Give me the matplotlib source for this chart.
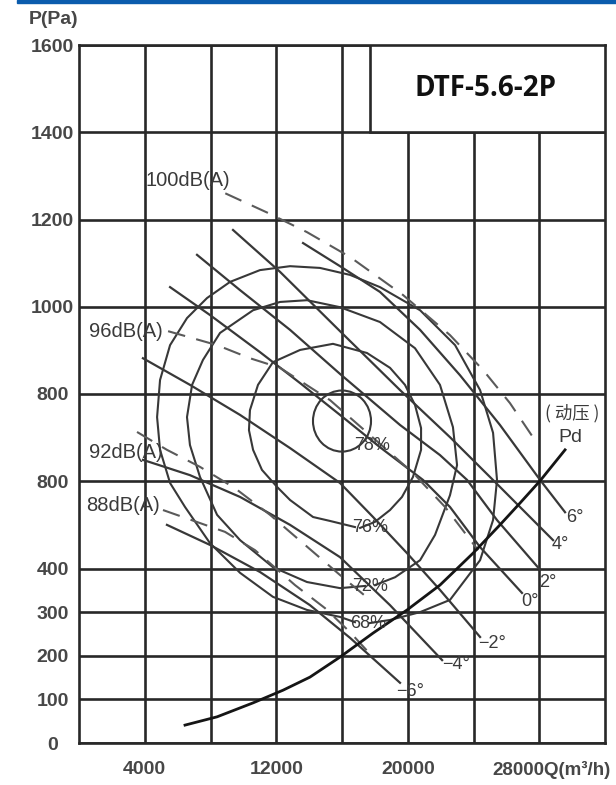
import matplotlib
matplotlib.use('Agg')
import matplotlib.pyplot as plt
from matplotlib.patches import Rectangle, Ellipse

plt.rcParams['font.family'] = ['Liberation Sans', 'DejaVu Sans']

# ---- axes / ticks (Q in m3/h, P in Pa) ----
X_GRID = [4000, 8000, 12000, 16000, 20000, 24000, 28000]
X_TICK_LABELS = ['4000', '', '12000', '', '20000', '', '']
Y_TICKS = [0, 100, 200, 300, 400, 600, 800, 1000, 1200, 1400, 1600]
Y_TICK_LABELS = ['0', '100', '200', '300', '400', '800', '800', '1000', '1200', '1400', '1600']

# ---- blade angle curves ----
B6_Q = [13630, 15880, 18310, 20750, 23180, 25610, 28050, 29570]
B6_P = [1146, 1093, 1034, 947, 843, 729, 603, 529]
B4_Q = [9370, 12230, 15880, 19530, 22570, 25610, 28840]
B4_P = [1176, 1080, 944, 809, 701, 587, 465]
B2_Q = [7180, 9800, 12840, 15880, 19530, 21960, 23610, 25430, 28050]
B2_P = [1119, 1038, 947, 846, 729, 660, 603, 511, 397]
B0_Q = [5540, 7970, 11010, 13450, 15880, 18310, 20930, 22570, 24400, 26950]
B0_P = [1045, 981, 896, 825, 752, 678, 603, 541, 449, 344]
BM2_Q = [3890, 6750, 9800, 12840, 15880, 17890, 19960, 21960, 24400]
BM2_P = [882, 821, 752, 676, 596, 518, 435, 351, 243]
BM4_Q = [3890, 6750, 9800, 12840, 15880, 18920, 22090]
BM4_P = [649, 614, 564, 500, 426, 316, 190]
BM6_Q = [5350, 7970, 11010, 14050, 16490, 19530]
BM6_P = [500, 454, 392, 316, 241, 138]

# ---- noise lines dB(A) ----
DB100_Q = [8900, 11500, 13870, 16490, 19710, 22570, 24580, 26220, 27740]
DB100_P = [1260, 1215, 1171, 1114, 1027, 935, 855, 779, 694]
DB96_Q = [5420, 8400, 10400, 12230, 15270, 17700, 20320, 22270, 24280]
DB96_P = [944, 912, 882, 860, 786, 706, 619, 541, 442]
DB92_Q = [3530, 5350, 7360, 9490, 11620, 13750, 15880, 17700]
DB92_P = [713, 672, 633, 584, 523, 454, 385, 328]
DB88_Q = [5110, 8880, 10710, 13140, 14970, 16490, 17830]
DB88_P = [534, 484, 442, 362, 309, 254, 199]

# ---- efficiency contours ----
E76_Q = [16790, 15270, 14240, 12840, 12050, 11130, 10590, 10340, 10400, 10890, 11800, 13450,
         15450, 17520, 18920, 19830, 20440, 20810, 20810, 20320, 19650, 18920, 18010, 17100]
E76_P = [495, 509, 518, 557, 587, 626, 672, 717, 763, 821, 873, 901,
         915, 894, 860, 821, 775, 722, 672, 610, 564, 534, 507, 493]
E72_Q = [17400, 15880, 13870, 11800, 9800, 8400, 7360, 6750, 6570, 6880, 7540, 8580, 10590,
         12230, 13870, 15880, 18310, 20440, 21960, 22750, 23000, 22570, 21660, 20750, 19230, 18010]
E72_P = [360, 355, 369, 403, 465, 523, 610, 683, 747, 821, 878, 940, 992,
         1011, 1015, 999, 965, 905, 821, 724, 637, 568, 477, 419, 380, 362]
E68_Q = [16790, 15880, 13870, 11800, 9800, 7970, 6450, 5540, 4930, 4750, 4930, 5540, 6570, 7790,
         9190, 11010, 12840, 14660, 16490, 18310, 20750, 22880, 24400, 25190, 25430, 25190, 24400,
         22570, 20750, 18920, 17700]
E68_P = [277, 289, 305, 335, 390, 458, 541, 596, 672, 747, 832, 912, 974, 1020,
         1057, 1084, 1093, 1089, 1073, 1045, 992, 912, 809, 711, 603, 511, 419,
         328, 300, 282, 275]
E78_CENTER = (16000, 738)
E78_WIDTH, E78_HEIGHT = 3530, 140

# ---- dynamic pressure Pd ----
PD_Q = [6450, 8400, 10590, 12410, 14050, 15880, 17890, 19960, 21960, 23970, 25610, 26830, 28050, 29570]
PD_P = [41, 60, 92, 121, 151, 197, 252, 305, 362, 435, 500, 550, 601, 672]

GRID_C = '#282828'
CURVE_C = '#383838'
DASH_C = '#5a5a5a'
TEXT_C = '#3a3a3a'
TICK_C = '#474747'

fig = plt.figure(figsize=(6.16, 7.85), dpi=100)
ax = fig.add_axes([79 / 616, 42 / 785, 526 / 616, 698 / 785])
ax.set_xlim(0, 32000)
ax.set_ylim(0, 1600)
ax.set_xticks(X_GRID)
ax.set_xticklabels(X_TICK_LABELS)
ax.set_yticks(Y_TICKS)
ax.set_yticklabels(Y_TICK_LABELS)
ax.tick_params(length=0, colors=TICK_C, labelsize=14)
ax.tick_params(axis='y', pad=19)
ax.tick_params(axis='x', pad=13)
for lab in ax.get_yticklabels():
    lab.set_ha('center')
    lab.set_fontweight('bold')
for lab in ax.get_xticklabels():
    lab.set_fontweight('bold')
ax.grid(True, color=GRID_C, lw=1.9)
ax.set_axisbelow(True)
for s in ax.spines.values():
    s.set_color(GRID_C)
    s.set_linewidth(1.9)

# x axis end label
ax.annotate('28000Q(m³/h)', xy=(25150, 0), xycoords=('data', 'axes fraction'),
            xytext=(0, -13), textcoords='offset points', ha='left', va='top',
            fontsize=13.5, fontweight='bold', color=TICK_C, annotation_clip=False)

# model box
ax.add_patch(Rectangle((17700, 1400), 14300, 200, facecolor='white',
                       edgecolor=GRID_C, lw=1.9, zorder=3))
ax.text(24700, 1501, 'DTF-5.6-2P', ha='center', va='center', fontsize=20,
        fontweight='bold', family=['Open Sans', 'DejaVu Sans'], color='#111111', zorder=6)

# efficiency contours
for q, p in [(E68_Q, E68_P), (E72_Q, E72_P), (E76_Q, E76_P)]:
    ax.plot(q, p, color=CURVE_C, lw=1.5, zorder=4)
ax.add_patch(Ellipse(E78_CENTER, E78_WIDTH, E78_HEIGHT, fill=False,
                     edgecolor=CURVE_C, lw=1.5, zorder=4))

# blade angle lines
blades = [(B6_Q, B6_P), (B4_Q, B4_P), (B2_Q, B2_P), (B0_Q, B0_P),
          (BM2_Q, BM2_P), (BM4_Q, BM4_P), (BM6_Q, BM6_P)]
for q, p in blades:
    ax.plot(q, p, color=CURVE_C, lw=1.6, zorder=4)

# noise lines
for q, p in [(DB100_Q, DB100_P), (DB96_Q, DB96_P), (DB92_Q, DB92_P), (DB88_Q, DB88_P)]:
    ax.plot(q, p, color=DASH_C, lw=1.5, ls=(0, (8.5, 5.5)), zorder=4)

# dynamic pressure
ax.plot(PD_Q, PD_P, color='#151515', lw=2.0, zorder=4)

# labels
db_txt = dict(fontsize=14.5, color=TEXT_C, ha='center', va='center', zorder=6)
ax.text(6630, 1290, '100dB(A)', **db_txt)
ax.text(2860, 944, '96dB(A)', **db_txt)
ax.text(2860, 665, '92dB(A)', **db_txt)
ax.text(2680, 545, '88dB(A)', **db_txt)

txt = dict(fontsize=13, color=TEXT_C, ha='center', va='center', zorder=6)
ax.text(17830, 681, '78%', **txt)
ax.text(17700, 495, '76%', **txt)
ax.text(17700, 358, '72%', **txt)
ax.text(17580, 275, '68%', **txt)
ax.text(30180, 518, '6°', **txt)
ax.text(29260, 454, '4°', **txt)
ax.text(28530, 367, '2°', **txt)
ax.text(27440, 325, '0°', **txt)
ax.text(25130, 227, '−2°', **txt)
ax.text(22940, 179, '−4°', **txt)
ax.text(20140, 119, '−6°', **txt)
ax.text(29990, 756, '( 动压 )', fontsize=12.5, color=TEXT_C, ha='center', va='center',
        family=['Noto Sans CJK SC', 'DejaVu Sans'], zorder=6)
ax.text(29870, 701, 'Pd', fontsize=14, color=TEXT_C, ha='center', va='center', zorder=6)

fig.text(54 / 616, 1 - 20 / 785, 'P(Pa)', ha='center', va='center', fontsize=14,
         fontweight='bold', color=TICK_C)
fig.add_artist(Rectangle((17 / 616, 1 - 3 / 785), 1 - 17 / 616, 3 / 785,
                         transform=fig.transFigure, color='#0b5cad'))

fig.savefig('out.png', dpi=100)
